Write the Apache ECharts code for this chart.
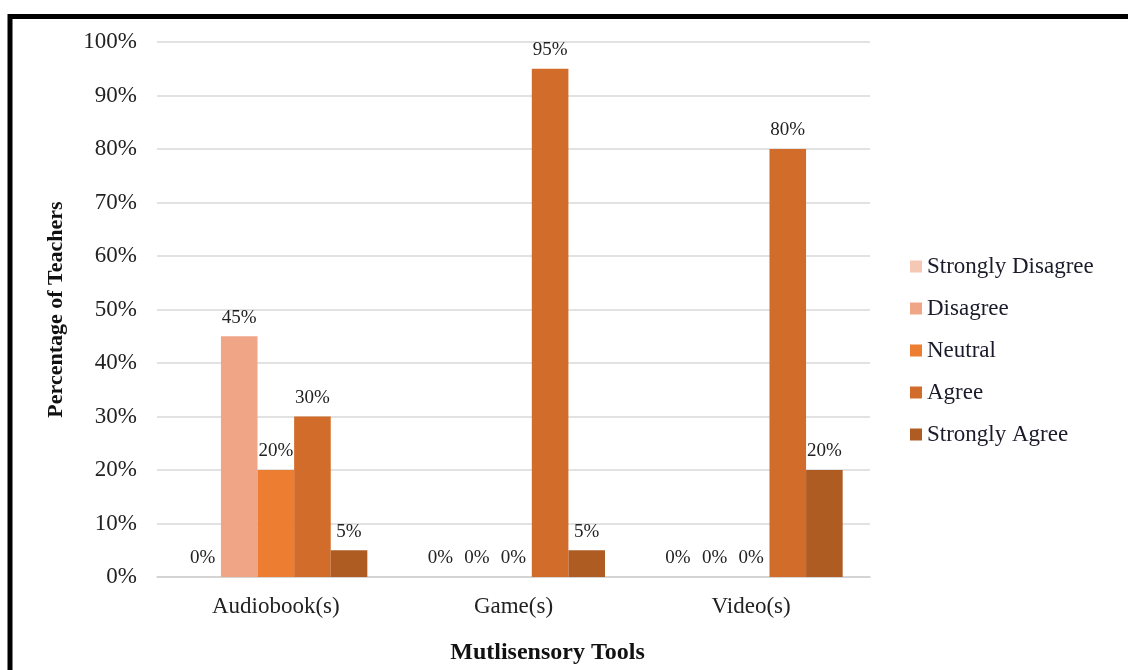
<!DOCTYPE html>
<html>
<head>
<meta charset="utf-8">
<script src="https://cdn.jsdelivr.net/npm/echarts@6/dist/echarts.min.js"></script>
<style>
  html, body { margin: 0; padding: 0; background: #fff; }
  #chart { width: 1128px; height: 670px; }
</style>
</head>
<body>
<div id="chart"></div>
<script>
// Survey responses per multisensory tool (percent of teachers)
const categories = ['Audiobook(s)', 'Game(s)', 'Video(s)'];
const stronglyDisagree = [0, 0, 0];
const disagree = [45, 0, 0];
const neutral = [20, 0, 0];
const agree = [30, 95, 80];
const stronglyAgree = [5, 5, 20];
const yTicks = [0, 10, 20, 30, 40, 50, 60, 70, 80, 90, 100];

const seriesDefs = [
  { name: 'Strongly Disagree', data: stronglyDisagree, color: '#F4C8B5' },
  { name: 'Disagree', data: disagree, color: '#F0A686' },
  { name: 'Neutral', data: neutral, color: '#ED7D31' },
  { name: 'Agree', data: agree, color: '#D26C2B' },
  { name: 'Strongly Agree', data: stronglyAgree, color: '#AE5C22' }
];

const serif = '"Liberation Serif", "DejaVu Serif", serif';

const chart = echarts.init(document.getElementById('chart'));
chart.setOption({
  animation: false,
  backgroundColor: '#fff',
  graphic: [{
    type: 'rect',
    shape: { x: 10, y: 16.5, width: 1300, height: 900 },
    style: { fill: 'none', stroke: '#000', lineWidth: 5 },
    silent: true
  }],
  grid: { left: 157, right: 258, top: 42, bottom: 93 },
  legend: {
    orient: 'vertical',
    left: 905,
    top: 250,
    icon: 'rect',
    itemWidth: 12,
    itemHeight: 12,
    itemGap: 19,
    textStyle: { fontFamily: serif, fontSize: 23, color: '#1a1a2a' },
    data: seriesDefs.map(s => s.name)
  },
  xAxis: {
    type: 'category',
    data: categories,
    name: 'Mutlisensory Tools',
    nameLocation: 'middle',
    nameGap: 64,
    nameTextStyle: {
      fontFamily: serif, fontSize: 24, fontWeight: 'bold', color: '#111',
      padding: [0, 0, 0, 68]
    },
    axisLine: { lineStyle: { color: '#d0d0d0', width: 1.5 } },
    axisTick: { show: false },
    axisLabel: { fontFamily: serif, fontSize: 23, color: '#222', margin: 18 }
  },
  yAxis: {
    type: 'value',
    min: yTicks[0],
    max: yTicks[yTicks.length - 1],
    interval: 10,
    name: 'Percentage of Teachers',
    nameLocation: 'middle',
    nameRotate: 90,
    nameGap: 90,
    nameTextStyle: { fontFamily: serif, fontSize: 22, fontWeight: 'bold', color: '#111' },
    axisLine: { show: false },
    axisTick: { show: false },
    axisLabel: { fontFamily: serif, fontSize: 23, color: '#222', margin: 20, formatter: v => v + '%' },
    splitLine: { lineStyle: { color: '#d9d9d9', width: 1.5 } }
  },
  series: seriesDefs.map(s => ({
    type: 'bar',
    name: s.name,
    data: s.data,
    barGap: '0%',
    barCategoryGap: '23%',
    itemStyle: { color: s.color },
    label: {
      show: true,
      position: 'top',
      distance: 9,
      fontFamily: serif,
      fontSize: 19,
      color: '#222',
      formatter: p => p.value + '%'
    }
  }))
});
</script>
</body>
</html>
